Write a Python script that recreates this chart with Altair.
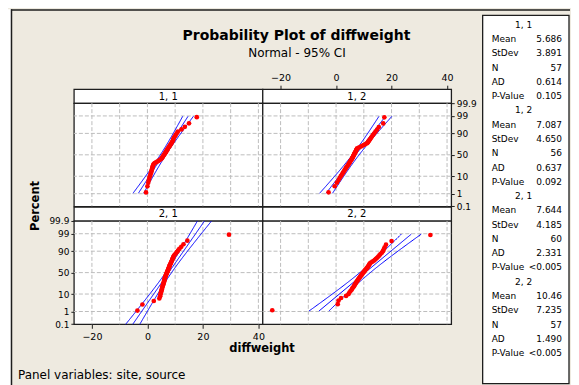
import altair as alt
import pandas as pd
from statistics import NormalDist

# ---------------- data ----------------
panel_labels = ["1, 1", "1, 2", "2, 1", "2, 2"]

vals_11 = [-0.5, 0.0, 0.3, 0.5, 0.7, 0.9, 1.1, 1.2, 1.4, 1.5,
           1.6, 1.7, 1.8, 1.9, 2.0, 2.1, 2.3, 2.6, 3.1, 3.6,
           4.0, 4.4, 4.8, 5.1, 5.3, 5.5, 5.6, 5.8,
           6.0, 6.2, 6.3, 6.5, 6.7, 6.8, 7.0, 7.2, 7.3, 7.5,
           7.7, 7.9, 8.1, 8.3, 8.5, 8.7, 8.9, 9.1, 9.3, 9.4,
           9.6, 9.9, 10.2, 10.6, 11.0, 12.3, 13.5, 15.0, 17.8]
vals_12 = [-2.7, -0.5, 0.3, 0.9, 1.3, 1.7, 2.1, 2.4, 2.7, 3.0,
           3.2, 3.5, 3.7, 3.9, 4.2, 4.4, 4.6, 4.8, 5.0, 5.1,
           5.3, 5.5, 5.7, 5.8, 6.0, 6.1, 6.2, 6.4,
           6.5, 6.6, 6.8, 6.9, 7.1, 7.2, 7.3, 7.5, 7.6, 8.2,
           8.8, 9.4, 10.0, 10.6, 11.2, 11.5, 11.7, 12.0, 12.3, 12.6,
           12.9, 13.3, 13.7, 14.2, 14.8, 15.4, 17.0, 17.4]
vals_21 = [-3.6, -1.8, 2.3, 4.3, 4.6, 4.7, 4.8, 5.0, 5.1, 5.2,
           5.3, 5.4, 5.5, 5.6, 5.7, 5.8, 5.9, 6.0, 6.05, 6.1,
           6.2, 6.25, 6.3, 6.4, 6.5, 6.6, 6.7, 6.8, 6.9, 7.0,
           7.1, 7.2, 7.3, 7.4, 7.5, 7.6, 7.7, 7.8, 7.9, 8.0,
           8.1, 8.2, 8.4, 8.5, 8.6, 8.8, 8.9, 9.0, 9.2, 9.3,
           9.5, 9.8, 10.2, 10.6, 11.0, 11.5, 12.2, 13.0, 14.4, 29.4]
vals_22 = [-23.0, 0.6, 0.9, 1.8, 3.6, 4.5, 4.8, 5.2, 5.6, 5.8,
           6.1, 6.4, 6.6, 6.8, 7.0, 7.2, 7.4, 7.6, 7.8, 8.0,
           8.2, 8.4, 8.6, 8.8, 9.0, 9.2, 9.4, 9.6, 9.8, 10.0,
           10.2, 10.4, 10.6, 10.9, 11.1, 11.3, 11.5, 11.7, 11.9, 12.0,
           12.2, 12.6, 13.1, 13.6, 14.0, 14.4, 14.8, 15.2, 15.6, 16.0,
           16.5, 16.9, 17.2, 17.5, 18.0, 20.0, 34.0]
panel_vals = [vals_11, vals_12, vals_21, vals_22]

means = [5.686, 7.087, 7.644, 10.46]
stdevs = [3.891, 4.650, 4.185, 7.235]
ns = [57, 56, 60, 57]
mean_txt = ["5.686", "7.087", "7.644", "10.46"]
stdev_txt = ["3.891", "4.650", "4.185", "7.235"]
ad_txt = ["0.614", "0.637", "2.331", "1.490"]
p_txt = ["0.105", "0.092", "<0.005", "<0.005"]
stat_names = ["Mean", "StDev", "N", "AD", "P-Value"]

# percentile range (as normal scores) covered by the fitted line and CI
line_z_lo = [-2.3, -2.3, -3.2, -2.3]
line_z_hi = [2.3, 2.3, 3.2, 2.3]

pct_ticks = [0.1, 1, 10, 50, 90, 99, 99.9]
pct_grid = [1, 10, 50, 90, 99]
x_ticks = [-20, 0, 20, 40]
x_grid = [-20, -10, 0, 10, 20, 30, 40]
x_domain = [-26.5, 41.5]

title_text = "Probability Plot of diffweight"
subtitle_text = "Normal - 95% CI"
x_title = "diffweight"
y_title = "Percent"
footer_text = "Panel variables: site, source"

# ---------------- style ----------------
FONT = "DejaVu Sans"
BEIGE = "#EEEAE0"
FRAME = "#1E1E1E"
GRID = "#BDBDBD"
PW, PH, SH = 189, 103.5, 14
TOTAL_H = 377
FOOT_H = TOTAL_H - (80 + 2 * SH + 2 * PH)

nd = NormalDist()
z_domain = [nd.inv_cdf(0.001) - 1e-6, nd.inv_cdf(0.999) + 1e-6]
z_ticks = [nd.inv_cdf(p / 100) for p in pct_ticks]

xs = alt.Scale(domain=x_domain, nice=False, zero=False)
ys = alt.Scale(domain=z_domain, nice=False, zero=False)
one = pd.DataFrame({"d": [0]})


def yaxis(orient):
    if orient is None:
        return None
    return alt.Axis(orient=orient, values=z_ticks,
                    labelExpr="format(cumulativeNormal(datum.value)*100, '.3~r')",
                    title=None, grid=False, domain=False, tickSize=3, tickColor=FRAME,
                    labelOverlap=False, labelFont=FONT, labelFontSize=9,
                    labelColor="black", labelPadding=2)


def xaxis(orient):
    if orient is None:
        return None
    return alt.Axis(orient=orient, values=x_ticks, format="d",
                    title=None, grid=False, domain=False, tickSize=4, tickColor=FRAME,
                    labelOverlap=False, labelFont=FONT, labelFontSize=9.5,
                    labelColor="black", labelPadding=3)


def plot_panel(k, xorient, yorient):
    ax, ay = xaxis(xorient), yaxis(yorient)
    gx = alt.Chart(pd.DataFrame({"g": x_grid})).mark_rule(
        color=GRID, strokeDash=[4, 2], strokeWidth=1
    ).encode(x=alt.X("g:Q", scale=xs, axis=ax))
    gy = alt.Chart(pd.DataFrame({"p": pct_grid})).transform_calculate(
        z="quantileNormal(datum.p/100)"
    ).mark_rule(color=GRID, strokeDash=[4, 2], strokeWidth=1).encode(
        y=alt.Y("z:Q", scale=ys, axis=ay))
    m, s, n = means[k], stdevs[k], ns[k]
    lines = alt.Chart(alt.sequence(line_z_lo[k], line_z_hi[k] + 0.001, 0.05, as_="z")).transform_calculate(
        fit=f"{m} + {s}*datum.z",
        w=f"1.96*{s}*sqrt(1/{n} + datum.z*datum.z/(2*{n}))",
    ).transform_calculate(
        lo="datum.fit - datum.w", hi="datum.fit + datum.w"
    ).transform_fold(["lo", "fit", "hi"], as_=["band", "xv"]).mark_line(
        color="#0000FF", strokeWidth=1, clip=True
    ).encode(
        x=alt.X("xv:Q", scale=xs, axis=ax),
        y=alt.Y("z:Q", scale=ys, axis=ay),
        detail="band:N",
        order="z:Q",
    )
    pts = alt.Chart(pd.DataFrame({"v": panel_vals[k]})).transform_window(
        i="row_number()", sort=[alt.SortField("v")]
    ).transform_joinaggregate(n="count()").transform_calculate(
        z="quantileNormal((datum.i - 0.3)/(datum.n + 0.4))"
    ).mark_circle(color="#FF0000", size=22, opacity=1).encode(
        x=alt.X("v:Q", scale=xs, axis=ax),
        y=alt.Y("z:Q", scale=ys, axis=ay),
    )
    return alt.layer(gx, gy, lines, pts).properties(
        width=PW, height=PH,
        view=alt.ViewBackground(fill="white", stroke=FRAME, strokeWidth=1.3))


def strip(k, top_axis=False):
    txt = alt.Chart(pd.DataFrame({"lab": [panel_labels[k]]})).mark_text(
        font=FONT, fontSize=10, color="black"
    ).encode(text="lab:N", x=alt.value(PW / 2), y=alt.value(SH / 2 + 0.5))
    layers = [txt]
    if top_axis:
        layers.append(alt.Chart(pd.DataFrame({"t": x_ticks})).mark_point(opacity=0, size=1).encode(
            x=alt.X("t:Q", scale=xs, axis=xaxis("top"))))
    return alt.layer(*layers).properties(
        width=PW, height=SH,
        view=alt.ViewBackground(fill="white", stroke=FRAME, strokeWidth=1.3))


def empty(w=1, h=1):
    return alt.Chart(one).mark_point(opacity=0, size=1).encode(
        x=alt.value(0.5), y=alt.value(0.5)).properties(width=w, height=h)


# y title (cell left of the top row of plots)
perc = alt.Chart(pd.DataFrame({"t": [y_title]})).mark_text(
    angle=270, font=FONT, fontSize=11.5, fontWeight="bold", color="black"
).encode(text="t:N", x=alt.value(28), y=alt.value(103)).properties(width=66, height=PH)

# title region (top-left cell, text overflows to the right)
t_white = alt.Chart(one).mark_rect(color="white").encode(
    x=alt.value(0), x2=alt.value(3), y=alt.value(0), y2=alt.value(TOTAL_H))
t_vline = alt.Chart(one).mark_rule(color=FRAME, strokeWidth=1.5).encode(
    x=alt.value(3.5), y=alt.value(0), y2=alt.value(TOTAL_H))
t_hline = alt.Chart(one).mark_rule(color=FRAME, strokeWidth=1.5).encode(
    x=alt.value(3), x2=alt.value(563), y=alt.value(0.75))
t_title = alt.Chart(pd.DataFrame({"t": [title_text]})).mark_text(
    font=FONT, fontSize=14, fontWeight="bold", color="black"
).encode(text="t:N", x=alt.value(289), y=alt.value(27))
t_sub = alt.Chart(pd.DataFrame({"t": [subtitle_text]})).mark_text(
    font=FONT, fontSize=12, color="black"
).encode(text="t:N", x=alt.value(289.5), y=alt.value(44))
title_view = alt.layer(t_white, t_vline, t_hline, t_title, t_sub).properties(width=66, height=80)

# footer region
f_x = alt.Chart(pd.DataFrame({"t": [x_title]})).mark_text(
    font=FONT, fontSize=11.5, fontWeight="bold", color="black"
).encode(text="t:N", x=alt.value(254.5), y=alt.value(24))
f_note = alt.Chart(pd.DataFrame({"t": [footer_text]})).mark_text(
    font=FONT, fontSize=12, color="black", align="left"
).encode(text="t:N", x=alt.value(10), y=alt.value(50))
footer = alt.layer(f_x, f_note).properties(width=66, height=FOOT_H)

# stats legend (top-right cell, box overflows downward)
rows = []
for g in range(4):
    base = g * 6
    rows.append({"row": base, "kind": "head", "lab": panel_labels[g], "val": ""})
    vals = [mean_txt[g], stdev_txt[g], str(ns[g]), ad_txt[g], p_txt[g]]
    for j, (nm, vv) in enumerate(zip(stat_names, vals)):
        rows.append({"row": base + 1 + j, "kind": "stat", "lab": nm, "val": vv})
leg_df = pd.DataFrame(rows)
ly = alt.Y("row:Q", scale=alt.Scale(domain=[0, 23], range=[15.5, 15.5 + 23 * 14.3]), axis=None)
box = alt.Chart(one).mark_rect(fill="white", stroke=FRAME, strokeWidth=1.3).encode(
    x=alt.value(1.5), x2=alt.value(88), y=alt.value(6), y2=alt.value(TOTAL_H - 2))
heads = alt.Chart(leg_df).transform_filter("datum.kind == 'head'").mark_text(
    font=FONT, fontSize=9, color="black", align="center"
).encode(text="lab:N", x=alt.value(42.5), y=ly)
labs = alt.Chart(leg_df).transform_filter("datum.kind == 'stat'").mark_text(
    font=FONT, fontSize=9, color="black", align="left"
).encode(text="lab:N", x=alt.value(10.5), y=ly)
valsm = alt.Chart(leg_df).transform_filter("datum.kind == 'stat'").mark_text(
    font=FONT, fontSize=9, color="black", align="right"
).encode(text="val:N", x=alt.value(81), y=ly)
legend_view = alt.layer(box, heads, labs, valsm).properties(width=89, height=80)

# ---------------- layout: one flat grid of 5 columns ----------------
cells = [
    title_view, empty(), empty(), empty(30, 1), legend_view,
    empty(66, SH), strip(0), strip(1, True), empty(), empty(),
    perc, plot_panel(0, None, None), plot_panel(1, None, "right"), empty(), empty(),
    empty(), strip(2), strip(3), empty(), empty(),
    empty(), plot_panel(2, "bottom", "left"), plot_panel(3, None, None), empty(), empty(),
    footer,
]
chart = alt.concat(*cells, columns=5, spacing=0, bounds="flush", align="each").properties(
    padding=0, background=BEIGE
).configure(font=FONT).configure_view(stroke=None)

chart.save("out.html", embed_options={"renderer": "svg", "actions": False})
